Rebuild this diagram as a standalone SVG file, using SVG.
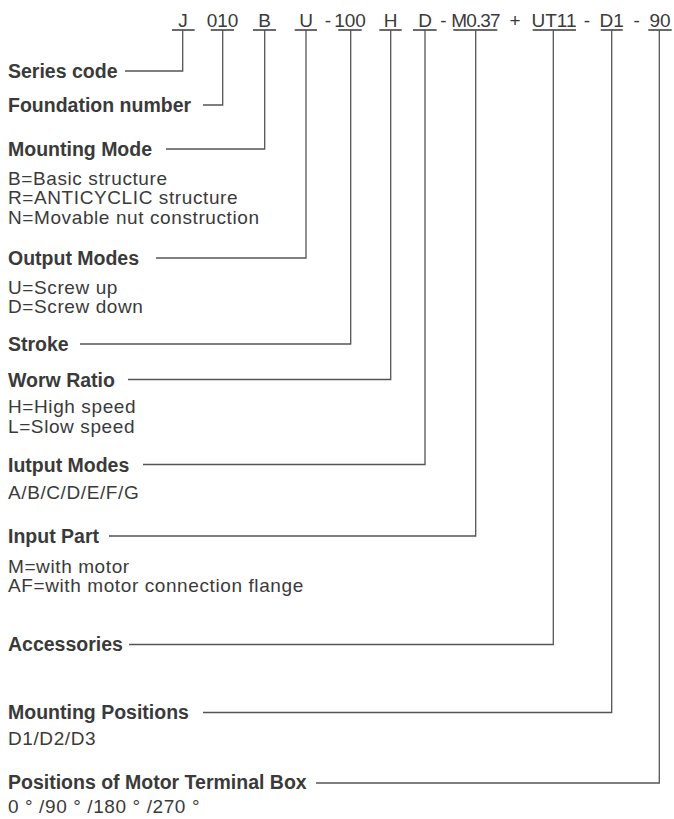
<svg xmlns="http://www.w3.org/2000/svg" width="674" height="819" viewBox="0 0 674 819">
<style>
.bg{fill:#ffffff}
.code{font-family:"Liberation Sans",Arial,sans-serif;font-size:19px;fill:#3a3a3a;text-anchor:middle}
.lbl{font-family:"Liberation Sans",Arial,sans-serif;font-size:19.5px;font-weight:bold;fill:#3a3a3a}
.txt{font-family:"Liberation Sans",Arial,sans-serif;font-size:19px;fill:#3a3a3a;letter-spacing:0.6px}
.ul{stroke:#3a3a3a;stroke-width:1.3;fill:none}
.cn{stroke:#555555;stroke-width:1.3;fill:none}
</style>
<rect class="bg" x="0" y="0" width="674" height="819"/>
<g id="code">
<text class="code" x="183" y="26.5">J</text>
<text class="code" x="222.5" y="26.5">010</text>
<text class="code" x="264.7" y="26.5">B</text>
<text class="code" x="306" y="26.5">U</text>
<text class="code" x="328" y="26.5">-</text>
<text class="code" x="350" y="26.5">100</text>
<text class="code" x="390.5" y="26.5">H</text>
<text class="code" x="425" y="26.5">D</text>
<text class="code" x="443.5" y="26.5">-</text>
<text class="code" x="475.5" y="26.5" style="letter-spacing:-0.9px">M0.37</text>
<text class="code" x="515" y="26.5">+</text>
<text class="code" x="554" y="26.5">UT11</text>
<text class="code" x="587" y="26.5">-</text>
<text class="code" x="611.7" y="26.5">D1</text>
<text class="code" x="636.7" y="26.5">-</text>
<text class="code" x="660" y="26.5">90</text>
<path class="ul" d="M172 30H194.7M210.7 30H234M253 30H276M294.7 30H317M338.3 30H361.7M379.3 30H401.7M413 30H436.7M453.3 30H497.3M532.7 30H576M600.7 30H622.7M648.3 30H671.7"/>
</g>
<g id="connectors">
<path class="cn" d="M125 71H182.7V30"/>
<path class="cn" d="M203 105H222.7V30"/>
<path class="cn" d="M166 149H264.7V30"/>
<path class="cn" d="M156 258H306V30"/>
<path class="cn" d="M80 344H350.7V30"/>
<path class="cn" d="M128 379.5H390.7V30"/>
<path class="cn" d="M143 464.5H425V30"/>
<path class="cn" d="M109 536H475.7V30"/>
<path class="cn" d="M129 644.5H553.3V30"/>
<path class="cn" d="M203 712.5H611.7V30"/>
<path class="cn" d="M316 783H659.3V30"/>
</g>
<g id="series-code"><text class="lbl" x="8" y="77.5">Series code</text></g>
<g id="foundation-number"><text class="lbl" x="8" y="112">Foundation number</text></g>
<g id="mounting-mode">
<text class="lbl" x="8" y="156">Mounting Mode</text>
<text class="txt" x="8" y="184.5">B=Basic structure</text>
<text class="txt" x="8" y="204">R=ANTICYCLIC structure</text>
<text class="txt" x="8" y="223.5">N=Movable nut construction</text>
</g>
<g id="output-modes">
<text class="lbl" x="8" y="265">Output Modes</text>
<text class="txt" x="8" y="293.5">U=Screw up</text>
<text class="txt" x="8" y="313">D=Screw down</text>
</g>
<g id="stroke"><text class="lbl" x="8" y="351">Stroke</text></g>
<g id="worw-ratio">
<text class="lbl" x="8" y="386.5">Worw Ratio</text>
<text class="txt" x="8" y="412.5">H=High speed</text>
<text class="txt" x="8" y="432.5">L=Slow speed</text>
</g>
<g id="iutput-modes">
<text class="lbl" x="8" y="471.5">Iutput Modes</text>
<text class="txt" x="8" y="499">A/B/C/D/E/F/G</text>
</g>
<g id="input-part">
<text class="lbl" x="8" y="542.5">Input Part</text>
<text class="txt" x="8" y="572.5">M=with motor</text>
<text class="txt" x="8" y="592">AF=with motor connection flange</text>
</g>
<g id="accessories"><text class="lbl" x="8" y="651">Accessories</text></g>
<g id="mounting-positions">
<text class="lbl" x="8" y="718.5">Mounting Positions</text>
<text class="txt" x="8" y="745">D1/D2/D3</text>
</g>
<g id="terminal-box">
<text class="lbl" x="8" y="788.5">Positions of Motor Terminal Box</text>
<text class="txt" x="8" y="812.5">0 ° /90 ° /180 ° /270 °</text>
</g>
</svg>
